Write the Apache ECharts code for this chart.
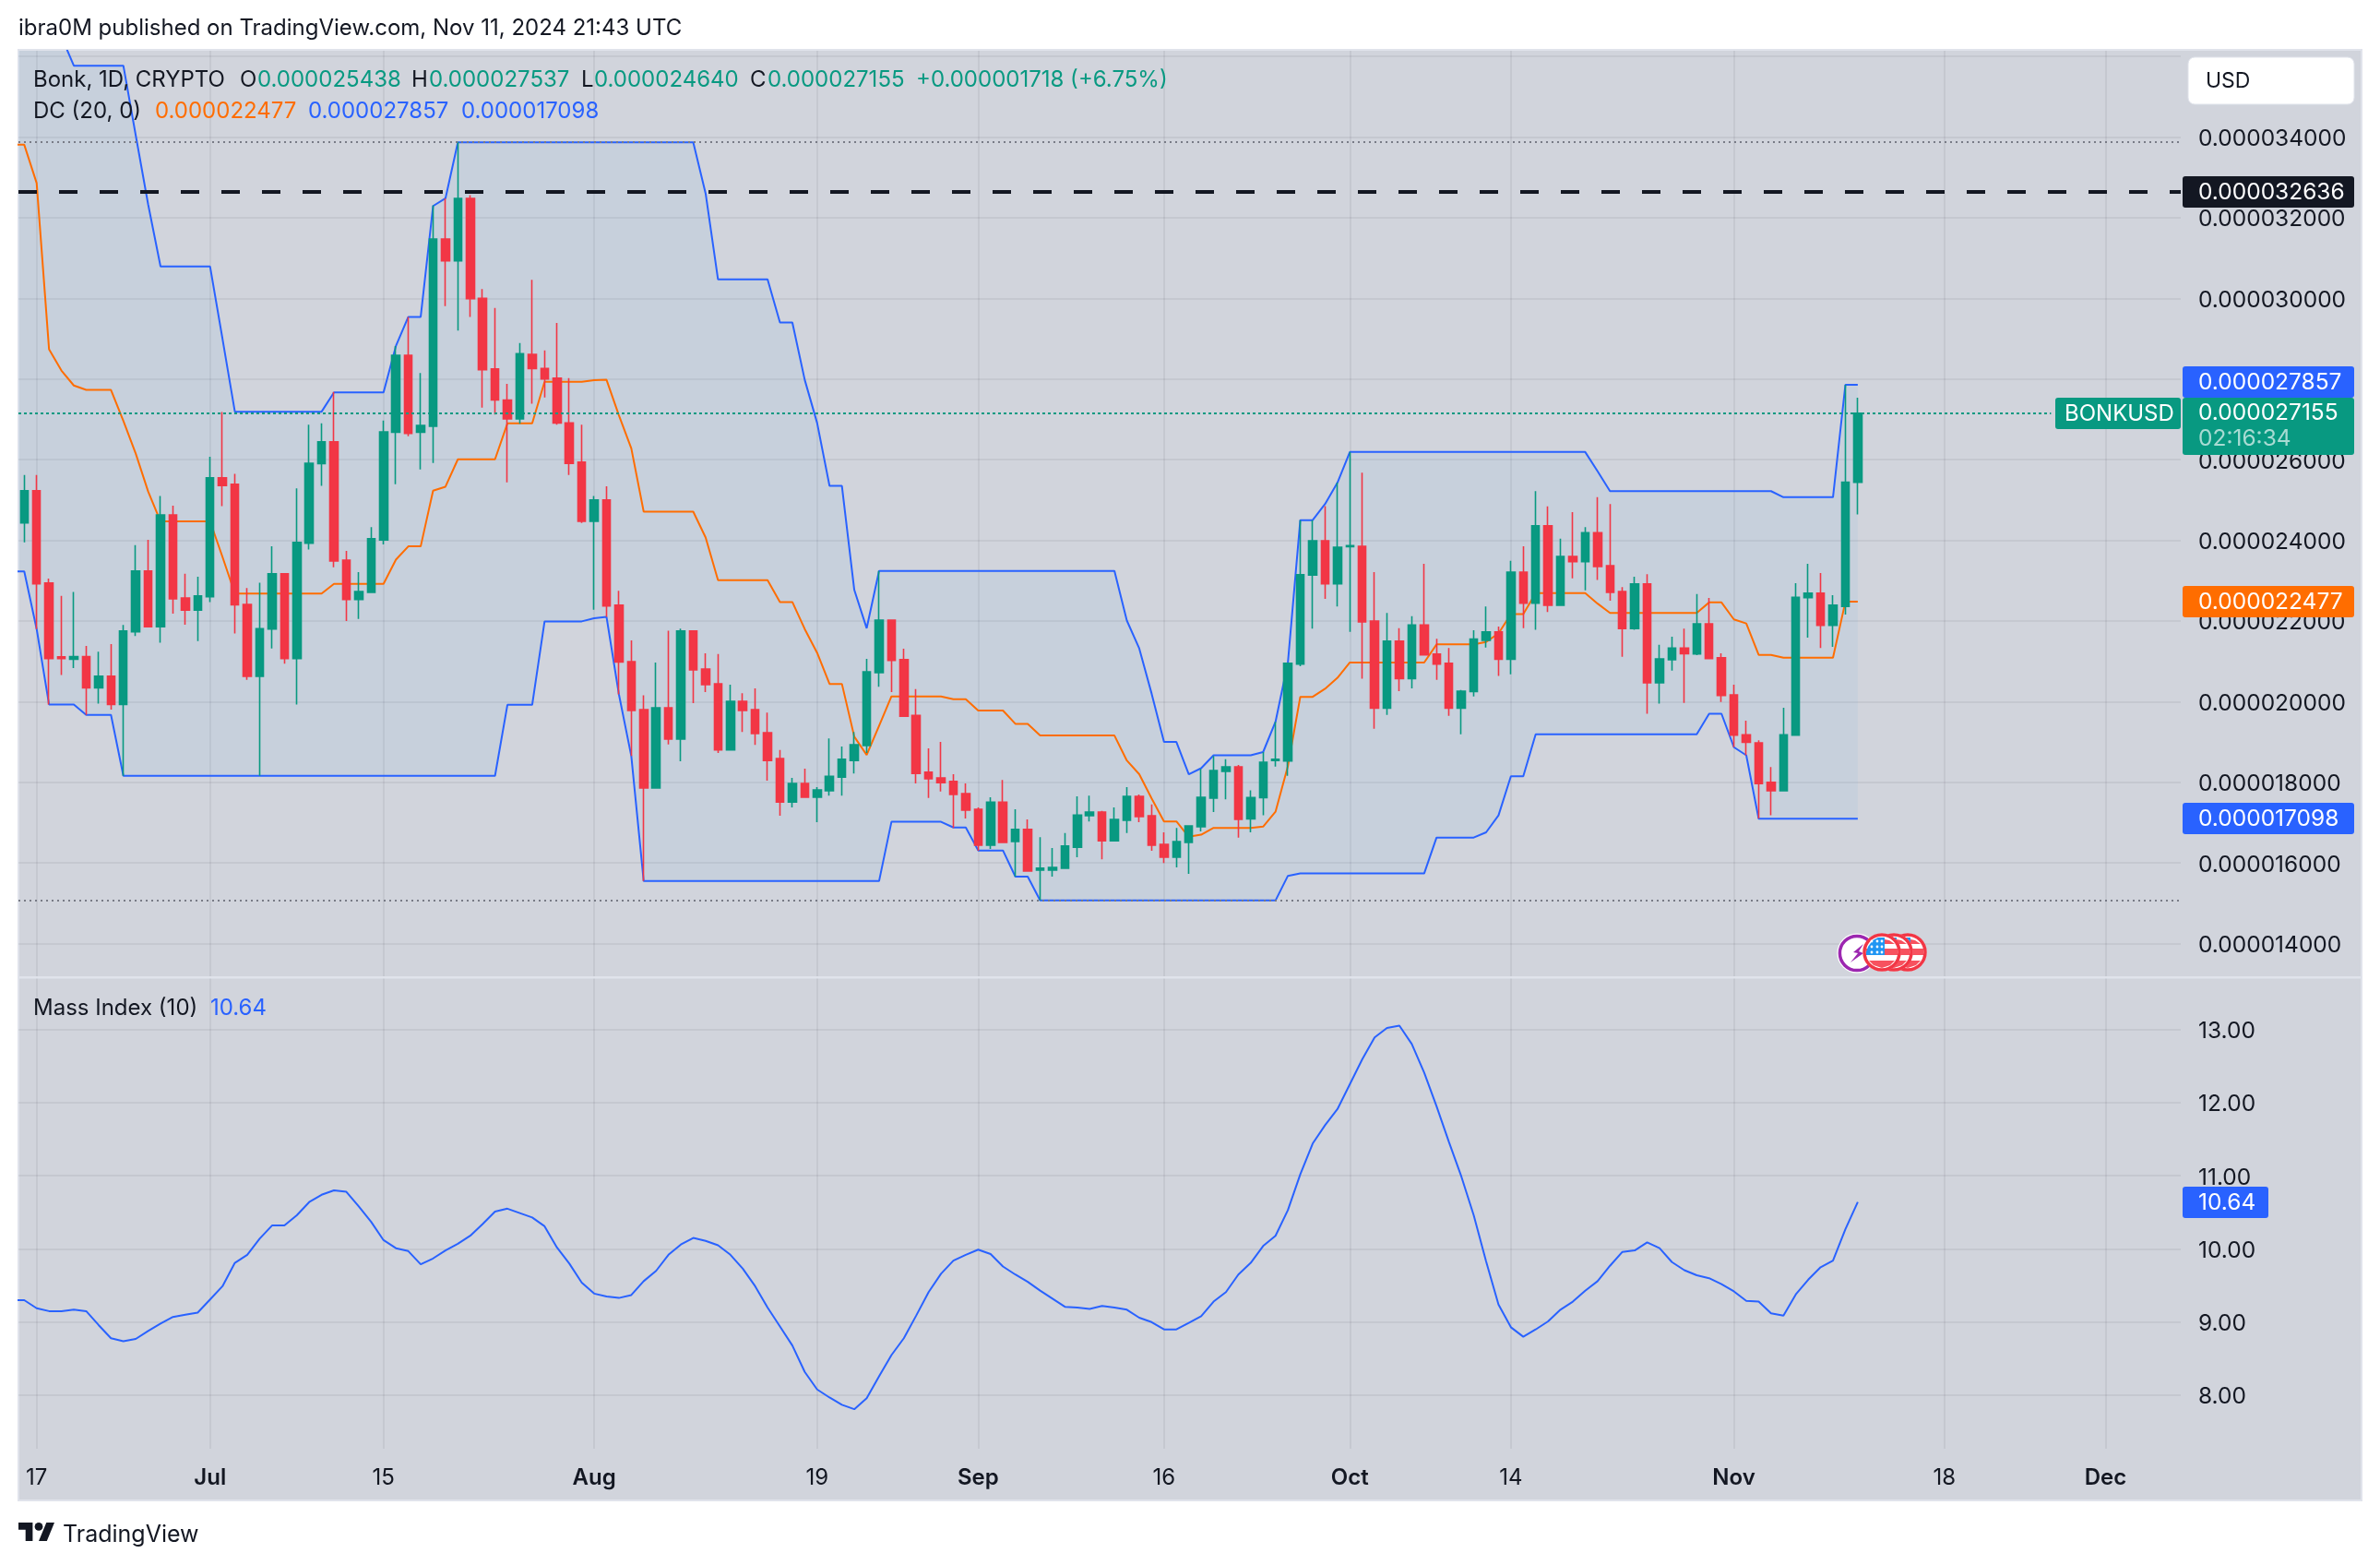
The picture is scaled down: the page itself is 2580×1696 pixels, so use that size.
<!DOCTYPE html>
<html>
<head>
<meta charset="utf-8">
<title>BONKUSD</title>
<script src="https://cdn.jsdelivr.net/npm/echarts@6/dist/echarts.min.js"></script>
<style>
  html, body { margin: 0; padding: 0; background: #fff; }
  #main { width: 2580px; height: 1696px; }
</style>
</head>
<body>
<div id="main"></div>
<script>
// prices are in millionths of a dollar, day 0 is Jun 16 2024
var candleOpen = [
  24.43, 25.23, 22.94, 21.11, 21.05, 21.12, 20.34, 20.63, 19.93, 21.73,
  23.24, 21.86, 24.63, 22.57, 22.27, 22.60, 25.55, 25.39, 22.41, 20.63,
  21.80, 23.17, 21.07, 23.93, 25.90, 26.44, 23.51, 22.53, 22.71, 24.01,
  26.68, 28.59, 26.68, 26.83, 31.47, 30.93, 32.48, 30.00, 28.25, 27.48,
  27.01, 28.61, 28.26, 28.02, 26.91, 25.94, 24.47, 25.00, 22.39, 20.99,
  19.80, 17.86, 19.85, 19.07, 21.75, 20.81, 20.44, 18.80, 20.01, 19.80,
  19.23, 18.59, 17.51, 17.97, 17.63, 17.79, 18.13, 18.54, 18.91, 20.72,
  22.02, 21.04, 19.66, 18.25, 18.11, 18.02, 17.72, 17.33, 16.44, 17.51,
  16.53, 16.83, 15.82, 15.82, 15.87, 16.39, 17.17, 17.26, 16.55, 17.06,
  17.65, 17.17, 16.46, 16.14, 16.51, 16.90, 17.61, 18.27, 18.38, 17.09,
  17.62, 18.54, 18.53, 20.93, 23.14, 23.99, 22.92, 23.84, 23.85, 22.00,
  19.84, 21.50, 20.57, 21.90, 21.18, 20.95, 19.84, 20.25, 21.52, 21.73,
  21.05, 23.21, 22.44, 24.36, 22.39, 23.60, 23.47, 24.19, 23.37, 22.73,
  21.81, 22.92, 20.47, 21.04, 21.33, 21.18, 21.93, 21.09, 20.17, 19.18,
  18.98, 18.00, 17.79, 19.17, 22.58, 22.69, 21.89, 22.36, 25.438
];
var candleClose = [
  25.23, 22.92, 21.07, 21.07, 21.12, 20.34, 20.63, 19.93, 21.75, 23.24,
  21.86, 24.63, 22.55, 22.27, 22.62, 25.55, 25.36, 22.40, 20.63, 21.81,
  23.17, 21.07, 23.95, 25.91, 26.44, 23.49, 22.53, 22.73, 24.04, 26.69,
  28.59, 26.65, 26.85, 31.47, 30.93, 32.48, 29.99, 28.23, 27.48, 27.01,
  28.63, 28.26, 28.00, 26.91, 25.91, 24.47, 25.00, 22.37, 20.98, 19.78,
  17.86, 19.85, 19.07, 21.75, 20.79, 20.42, 18.80, 20.01, 19.78, 19.21,
  18.54, 17.51, 17.97, 17.63, 17.81, 18.15, 18.57, 18.93, 20.74, 22.02,
  21.02, 19.64, 18.22, 18.09, 17.99, 17.70, 17.31, 16.44, 17.51, 16.51,
  16.83, 15.80, 15.87, 15.89, 16.42, 17.19, 17.26, 16.55, 17.08, 17.65,
  17.15, 16.44, 16.14, 16.53, 16.92, 17.63, 18.29, 18.38, 17.08, 17.62,
  18.50, 18.57, 20.95, 23.15, 23.99, 22.92, 23.83, 23.87, 21.98, 19.84,
  21.50, 20.57, 21.90, 21.16, 20.93, 19.84, 20.26, 21.55, 21.73, 21.05,
  23.21, 22.44, 24.36, 22.39, 23.60, 23.47, 24.19, 23.35, 22.71, 21.81,
  22.92, 20.47, 21.06, 21.33, 21.19, 21.93, 21.07, 20.15, 19.17, 18.99,
  17.97, 17.79, 19.18, 22.59, 22.69, 21.89, 22.39, 25.44, 27.155
];
var candleLow = [
  23.95, 21.80, 19.93, 20.66, 20.83, 19.67, 19.95, 19.80, 18.16, 21.63,
  21.86, 21.46, 22.18, 21.91, 21.50, 22.47, 24.85, 21.69, 20.54, 18.16,
  21.32, 20.94, 19.93, 23.77, 25.35, 23.33, 22.00, 22.05, 22.71, 23.90,
  25.39, 26.58, 25.76, 25.92, 29.81, 29.20, 29.54, 27.29, 27.12, 25.44,
  26.89, 27.39, 27.54, 26.87, 25.62, 24.43, 22.28, 22.10, 20.18, 18.65,
  15.55, 17.86, 18.94, 18.52, 19.96, 20.24, 18.73, 18.80, 19.25, 18.93,
  18.04, 17.17, 17.38, 17.63, 17.01, 17.67, 17.67, 18.22, 18.73, 20.37,
  20.24, 19.62, 17.97, 17.61, 17.77, 16.87, 17.10, 16.30, 16.35, 16.51,
  15.66, 15.80, 15.07, 15.66, 15.85, 16.14, 17.03, 16.09, 16.55, 16.74,
  17.01, 16.30, 16.00, 15.89, 15.73, 16.78, 17.26, 17.58, 16.63, 16.76,
  17.18, 18.39, 18.16, 20.88, 21.81, 22.55, 22.36, 21.73, 20.57, 19.33,
  19.67, 20.26, 20.33, 21.14, 20.54, 19.65, 19.19, 20.13, 21.34, 20.64,
  20.68, 21.82, 21.78, 22.22, 22.39, 23.06, 22.76, 23.02, 22.50, 21.11,
  21.78, 19.70, 19.95, 20.77, 19.97, 21.15, 21.05, 19.99, 18.87, 18.67,
  17.10, 17.18, 17.79, 19.17, 21.59, 21.33, 21.36, 22.16, 24.640
];
var candleHigh = [
  25.62, 25.62, 23.05, 22.62, 22.72, 21.38, 21.24, 21.43, 21.90, 23.88,
  24.01, 25.10, 24.86, 23.17, 23.10, 26.07, 27.18, 25.65, 22.82, 22.95,
  23.85, 23.19, 25.29, 26.87, 26.90, 27.68, 23.74, 23.21, 24.33, 26.97,
  28.82, 29.54, 28.15, 32.31, 32.48, 33.88, 32.56, 30.23, 29.76, 27.88,
  28.89, 30.46, 28.71, 29.39, 28.02, 26.87, 25.10, 25.34, 22.75, 21.52,
  20.16, 20.97, 21.76, 21.81, 21.75, 21.20, 21.18, 20.42, 20.21, 20.33,
  19.73, 18.80, 18.11, 18.34, 17.88, 19.09, 18.89, 19.25, 21.06, 23.24,
  22.02, 21.31, 20.31, 18.84, 19.00, 18.20, 17.97, 17.38, 17.63, 18.06,
  17.33, 17.08, 16.64, 16.37, 16.74, 17.65, 17.67, 17.29, 17.38, 17.88,
  17.70, 17.45, 16.76, 16.87, 16.92, 18.33, 18.65, 18.57, 18.43, 17.80,
  18.75, 19.50, 20.97, 24.50, 24.50, 24.85, 25.43, 26.19, 25.68, 23.21,
  22.20, 21.82, 22.12, 23.42, 21.56, 21.33, 20.29, 21.77, 22.36, 21.86,
  23.49, 23.85, 25.22, 24.84, 24.04, 24.70, 24.33, 25.07, 24.90, 22.84,
  23.10, 23.16, 21.41, 21.61, 21.81, 22.67, 22.57, 21.20, 20.42, 19.53,
  19.04, 18.38, 19.85, 22.94, 23.42, 23.19, 22.64, 27.857, 27.537
];

// indicator arrays start one day earlier (Jun 15), the bar just off the left edge
var dcUpper = [
  44.39, 44.39, 43.92, 37.55, 36.49, 35.77, 35.77, 35.77, 35.77, 35.77,
  34.04, 32.33, 30.79, 30.79, 30.79, 30.79, 30.79, 29.00, 27.19, 27.19,
  27.19, 27.19, 27.19, 27.19, 27.19, 27.19, 27.67, 27.67, 27.67, 27.67,
  27.67, 28.82, 29.54, 29.54, 32.29, 32.48, 33.87, 33.87, 33.87, 33.87,
  33.87, 33.87, 33.87, 33.87, 33.87, 33.87, 33.87, 33.87, 33.87, 33.87,
  33.87, 33.87, 33.87, 33.87, 33.87, 33.87, 32.60, 30.47, 30.47, 30.47,
  30.47, 30.47, 29.40, 29.40, 27.98, 26.91, 25.35, 25.35, 22.77, 21.82,
  23.24, 23.24, 23.24, 23.24, 23.24, 23.24, 23.24, 23.24, 23.24, 23.24,
  23.24, 23.24, 23.24, 23.24, 23.24, 23.24, 23.24, 23.24, 23.24, 23.24,
  22.01, 21.32, 20.20, 19.00, 19.00, 18.20, 18.35, 18.67, 18.67, 18.67,
  18.67, 18.75, 19.50, 20.97, 24.50, 24.50, 24.90, 25.43, 26.19, 26.19,
  26.19, 26.19, 26.19, 26.19, 26.19, 26.19, 26.19, 26.19, 26.19, 26.19,
  26.19, 26.19, 26.19, 26.19, 26.19, 26.19, 26.19, 26.19, 25.71, 25.22,
  25.22, 25.22, 25.22, 25.22, 25.22, 25.22, 25.22, 25.22, 25.22, 25.22,
  25.22, 25.22, 25.22, 25.07, 25.07, 25.07, 25.07, 25.07, 27.857, 27.857
];
var dcLower = [
  23.23, 23.23, 21.80, 19.93, 19.93, 19.93, 19.67, 19.67, 19.67, 18.16,
  18.16, 18.16, 18.16, 18.16, 18.16, 18.16, 18.16, 18.16, 18.16, 18.16,
  18.16, 18.16, 18.16, 18.16, 18.16, 18.16, 18.16, 18.16, 18.16, 18.16,
  18.16, 18.16, 18.16, 18.16, 18.16, 18.16, 18.16, 18.16, 18.16, 18.16,
  19.92, 19.92, 19.92, 21.99, 21.99, 21.99, 21.99, 22.07, 22.10, 20.18,
  18.65, 15.55, 15.55, 15.55, 15.55, 15.55, 15.55, 15.55, 15.55, 15.55,
  15.55, 15.55, 15.55, 15.55, 15.55, 15.55, 15.55, 15.55, 15.55, 15.55,
  15.55, 17.02, 17.02, 17.02, 17.02, 17.02, 16.88, 16.88, 16.31, 16.31,
  16.31, 15.66, 15.66, 15.07, 15.07, 15.07, 15.07, 15.07, 15.07, 15.07,
  15.07, 15.07, 15.07, 15.07, 15.07, 15.07, 15.07, 15.07, 15.07, 15.07,
  15.07, 15.07, 15.07, 15.68, 15.74, 15.74, 15.74, 15.74, 15.74, 15.74,
  15.74, 15.74, 15.74, 15.74, 15.74, 16.63, 16.63, 16.63, 16.63, 16.76,
  17.18, 18.15, 18.15, 19.19, 19.19, 19.19, 19.19, 19.19, 19.19, 19.19,
  19.19, 19.19, 19.19, 19.19, 19.19, 19.19, 19.19, 19.70, 19.70, 18.87,
  18.67, 17.098, 17.098, 17.098, 17.098, 17.098, 17.098, 17.098, 17.098, 17.098
];
var dcMiddle = [
  33.81, 33.81, 32.86, 28.74, 28.21, 27.84, 27.73, 27.73, 27.73, 26.96,
  26.15, 25.21, 24.47, 24.47, 24.47, 24.47, 24.47, 23.59, 22.68, 22.68,
  22.68, 22.68, 22.68, 22.68, 22.68, 22.68, 22.92, 22.92, 22.92, 22.92,
  22.92, 23.52, 23.85, 23.85, 25.23, 25.33, 26.01, 26.01, 26.01, 26.01,
  26.90, 26.90, 26.90, 27.93, 27.93, 27.93, 27.93, 27.97, 27.98, 27.10,
  26.28, 24.71, 24.71, 24.71, 24.71, 24.71, 24.07, 23.01, 23.01, 23.01,
  23.01, 23.01, 22.47, 22.47, 21.80, 21.21, 20.44, 20.44, 19.13, 18.68,
  19.40, 20.13, 20.13, 20.13, 20.13, 20.13, 20.06, 20.06, 19.78, 19.78,
  19.78, 19.45, 19.45, 19.16, 19.16, 19.16, 19.16, 19.16, 19.16, 19.16,
  18.54, 18.20, 17.60, 17.03, 17.03, 16.65, 16.70, 16.87, 16.87, 16.87,
  16.87, 16.90, 17.27, 18.40, 20.12, 20.12, 20.32, 20.59, 20.97, 20.97,
  20.97, 20.97, 20.97, 20.97, 20.97, 21.42, 21.42, 21.42, 21.42, 21.48,
  21.69, 22.17, 22.17, 22.69, 22.69, 22.69, 22.69, 22.69, 22.43, 22.20,
  22.20, 22.20, 22.20, 22.20, 22.20, 22.20, 22.20, 22.46, 22.46, 22.04,
  21.94, 21.16, 21.16, 21.09, 21.09, 21.09, 21.09, 21.09, 22.477, 22.477
];
var massIndex = [
  9.30, 9.30, 9.19, 9.15, 9.15, 9.17, 9.15, 8.96, 8.78, 8.74,
  8.77, 8.88, 8.98, 9.07, 9.10, 9.13, 9.31, 9.49, 9.81, 9.92,
  10.14, 10.32, 10.32, 10.46, 10.64, 10.74, 10.80, 10.78, 10.58, 10.37,
  10.12, 10.01, 9.97, 9.79, 9.87, 9.98, 10.07, 10.18, 10.34, 10.51,
  10.55, 10.49, 10.43, 10.31, 10.02, 9.80, 9.54, 9.39, 9.35, 9.33,
  9.37, 9.56, 9.70, 9.92, 10.06, 10.15, 10.11, 10.05, 9.92, 9.73,
  9.49, 9.20, 8.94, 8.68, 8.32, 8.08, 7.97, 7.87, 7.81, 7.96,
  8.26, 8.55, 8.78, 9.09, 9.41, 9.66, 9.84, 9.92, 9.99, 9.93,
  9.76, 9.65, 9.55, 9.43, 9.32, 9.21, 9.20, 9.18, 9.22, 9.20,
  9.17, 9.06, 9.00, 8.90, 8.90, 8.99, 9.08, 9.28, 9.41, 9.65,
  9.81, 10.04, 10.18, 10.53, 11.02, 11.44, 11.69, 11.91, 12.25, 12.59,
  12.89, 13.02, 13.05, 12.80, 12.41, 11.95, 11.46, 10.99, 10.46, 9.83,
  9.24, 8.93, 8.80, 8.90, 9.01, 9.17, 9.28, 9.43, 9.56, 9.77,
  9.96, 9.98, 10.09, 10.01, 9.82, 9.71, 9.64, 9.60, 9.52, 9.42,
  9.29, 9.28, 9.12, 9.09, 9.38, 9.58, 9.75, 9.84, 10.27, 10.64
];

var dateTickDays = [1, 15, 29, 46, 64, 77, 92, 107, 120, 138, 155, 168];
var dateTickLabels = ["17", "Jul", "15", "Aug", "19", "Sep", "16", "Oct", "14", "Nov", "18", "Dec"];
var priceGridTicks = [14, 16, 18, 20, 22, 24, 26, 28, 30, 32, 34, 36];
var priceLabelTicks = [14, 16, 18, 20, 22, 24, 26, 28, 30, 32, 34];
var massTicks = [8, 9, 10, 11, 12, 13];

var lastClose = 27.155;
var alertLevel = 32.636;
var rangeTop = 33.87;
var rangeBottom = 15.07;

var UP = "#089981", DOWN = "#f23645", BLUE = "#2962ff", ORANGE = "#ff6d00";
var INK = "#131722", PANEL = "#d1d4dc", EDGE = "#e0e3eb", GRID = "rgba(42,46,57,0.07)";
var FONT = "Inter, sans-serif";
var AXIS_SIZE = 24.5;

var xMin = -0.469, xMax = 174.07;

var candles = candleOpen.map(function (o, i) {
  return [i, o, candleClose[i], candleLow[i], candleHigh[i]];
});
function withDay(values) {
  return values.map(function (v, i) { return [i - 1, v]; });
}

function labelFor(day) {
  var i = dateTickDays.indexOf(day);
  var text = i < 0 ? "" : dateTickLabels[i];
  return /^\d/.test(text) ? text : "{b|" + text + "}";
}

function line(name, values, color, axis, z) {
  return {
    name: name, type: "line", data: withDay(values), xAxisIndex: axis, yAxisIndex: axis,
    showSymbol: false, symbol: "none", silent: true, z: z || 2,
    lineStyle: { color: color, width: 2 }
  };
}

// channel fill, one polygon from the upper edge back along the lower edge
function renderChannel(params, api) {
  if (params.dataIndex !== 0) return;
  var points = [];
  dcUpper.forEach(function (v, i) { points.push(api.coord([i - 1, v])); });
  for (var i = dcLower.length - 1; i >= 0; i--) points.push(api.coord([i - 1, dcLower[i]]));
  return { type: "polygon", shape: { points: points }, style: { fill: "rgba(33,150,243,0.055)" } };
}

function text(str, x, y, fill, size) {
  return {
    type: "text", x: x, y: y, z: 30, silent: true,
    style: {
      text: str, fill: fill, font: "400 " + size + "px " + FONT,
      verticalAlign: "middle", align: "left"
    }
  };
}
function tag(x, y, w, h, fill, r) {
  return { type: "rect", z: 25, silent: true, shape: { x: x, y: y, width: w, height: h, r: r || 0 }, style: { fill: fill } };
}
function polygon(points, fill, z) {
  return { type: "polygon", z: z, silent: true, shape: { points: points }, style: { fill: fill } };
}
function circle(cx, cy, r, fill, stroke, width, z) {
  return { type: "circle", z: z, silent: true, shape: { cx: cx, cy: cy, r: r }, style: { fill: fill, stroke: stroke, lineWidth: width || 0 } };
}

// US flag event badge
function flagBadge(cx, cy, z) {
  var out = [
    circle(cx, cy, 20.5, "#fff", null, 0, z),
    polygon([[cx + 3, cy - 14], [cx + 8, cy - 13], [cx + 14, cy - 9], [cx + 3, cy - 9]], "#f7525f", z),
    { type: "rect", z: z, silent: true, shape: { x: cx - 17, y: cy - 4, width: 34, height: 7 }, style: { fill: "#f7525f" } },
    polygon([[cx - 14, cy + 9], [cx + 14, cy + 9], [cx + 9, cy + 14], [cx, cy + 17], [cx - 9, cy + 14]], "#f7525f", z),
    polygon([[cx - 15, cy - 6], [cx - 10, cy - 13], [cx - 4, cy - 16], [cx + 3, cy - 16], [cx + 3, cy + 3], [cx - 17, cy + 3], [cx - 17, cy]], "#2196f3", z),
    circle(cx, cy, 19, "none", "#f23645", 3.5, z)
  ];
  [-12, -6, 0].forEach(function (dy) {
    [-11, -5, 0].forEach(function (dx) {
      out.push(circle(cx + dx, cy + dy, 1.4, "#fff", null, 0, z));
    });
  });
  return out;
}

// panel and furniture around the panes
var backdrop = [
  { type: "rect", z: -10, silent: true, shape: { x: 20, y: 54, width: 2540, height: 1572 }, style: { fill: PANEL, stroke: EDGE, lineWidth: 2 } },
  { type: "rect", z: 1, silent: true, shape: { x: 20, y: 1058, width: 2540, height: 2.5 }, style: { fill: EDGE } }
];

var legend = [
  text("ibra0M published on TradingView.com, Nov 11, 2024 21:43 UTC", 20, 31, INK, 24),
  text("Bonk, 1D, CRYPTO", 36, 87, INK, 24),
  text("O", 260, 87, INK, 24), text("0.000025438", 279, 87, UP, 24),
  text("H", 446, 87, INK, 24), text("0.000027537", 465, 87, UP, 24),
  text("L", 630, 87, INK, 24), text("0.000024640", 644, 87, UP, 24),
  text("C", 813, 87, INK, 24), text("0.000027155", 832, 87, UP, 24),
  text("+0.000001718 (+6.75%)", 993, 87, UP, 24),
  text("DC (20, 0)", 36, 121, INK, 24),
  text("0.000022477", 168, 121, ORANGE, 24),
  text("0.000027857", 334, 121, BLUE, 24),
  text("0.000017098", 500, 121, BLUE, 24),
  text("Mass Index (10)", 36, 1093, INK, 24),
  text("10.64", 228, 1093, BLUE, 24),
  text("TradingView", 68, 1663, INK, 25)
];

var priceTags = [
  { type: "rect", z: 25, silent: true, shape: { x: 2372, y: 62, width: 180, height: 51, r: 7 }, style: { fill: "#fff", stroke: EDGE, lineWidth: 1 } },
  text("USD", 2391, 88, INK, 23),
  tag(2366, 191, 186, 34, INK, 3), text("0.000032636", 2383, 209, "#fff", AXIS_SIZE),
  tag(2366, 397, 186, 34, BLUE, 3), text("0.000027857", 2383, 415, "#fff", AXIS_SIZE),
  tag(2366, 431, 186, 62, UP, 3), text("0.000027155", 2383, 448, "#fff", AXIS_SIZE),
  text("02:16:34", 2383, 476, "rgba(255,255,255,0.65)", AXIS_SIZE),
  tag(2228, 431, 136, 34, UP, 3), text("BONKUSD", 2238, 449, "#fff", 24),
  tag(2366, 635, 186, 34, ORANGE, 3), text("0.000022477", 2383, 653, "#fff", AXIS_SIZE),
  tag(2366, 870, 186, 34, BLUE, 3), text("0.000017098", 2383, 888, "#fff", AXIS_SIZE),
  tag(2366, 1286, 93, 34, BLUE, 3), text("10.64", 2383, 1304, "#fff", AXIS_SIZE)
];

var logo = [
  polygon([[20, 1650], [35.4, 1650], [35.4, 1670], [27.7, 1670], [27.7, 1657.7], [20, 1657.7]], INK, 30),
  polygon([[42, 1670], [50.3, 1650], [59, 1650], [50.8, 1670]], INK, 30),
  circle(42, 1654.4, 4.4, INK, null, 0, 30)
];

var badges = [].concat(
  flagBadge(2068, 1032, 21),
  flagBadge(2053, 1032, 22),
  [
    circle(2013, 1033, 21.6, "#fff", null, 0, 23),
    circle(2013, 1033, 18.6, "#fff", "#9c27b0", 3.5, 23),
    polygon([[2020, 1023], [2009, 1032], [2014, 1033], [2006, 1043], [2020, 1033], [2015, 1031]], "#9c27b0", 23)
  ],
  flagBadge(2040, 1032, 24)
);

// rich token so the right axis text can sit a touch below its grid line
var axisRich = { t: { fontSize: AXIS_SIZE, color: INK, fontFamily: FONT, padding: [4, 0, 0, 0] } };

var option = {
  animation: false,
  backgroundColor: "#ffffff",
  textStyle: { fontFamily: FONT },
  grid: [
    { left: 20, top: 55, width: 2344, height: 1004 },
    { left: 20, top: 1060, width: 2344, height: 510 }
  ],
  xAxis: [
    {
      type: "value", gridIndex: 0, min: xMin, max: xMax, scale: true,
      axisLine: { show: false },
      axisTick: { show: false, customValues: dateTickDays },
      axisLabel: { show: false, customValues: dateTickDays },
      splitLine: { show: true, lineStyle: { color: GRID, width: 2 } }
    },
    {
      type: "value", gridIndex: 1, min: xMin, max: xMax, scale: true,
      axisLine: { show: false },
      axisTick: { show: false, customValues: dateTickDays },
      axisLabel: {
        customValues: dateTickDays, margin: 20, color: INK, fontSize: 24, fontFamily: FONT,
        formatter: labelFor,
        rich: { b: { fontWeight: 600, fontSize: 24, color: INK, fontFamily: FONT } }
      },
      splitLine: { show: true, lineStyle: { color: GRID, width: 2 } }
    }
  ],
  yAxis: [
    {
      type: "value", gridIndex: 0, position: "right", min: 13.167, max: 36.14, scale: true,
      axisLine: { show: false },
      axisTick: { show: false, customValues: priceGridTicks },
      axisLabel: {
        customValues: priceLabelTicks, margin: 19, color: INK, fontSize: AXIS_SIZE, fontFamily: FONT, align: "left",
        rich: axisRich,
        formatter: function (v) { return "{t|" + (v / 1e6).toFixed(9) + "}"; }
      },
      splitLine: { show: true, lineStyle: { color: GRID, width: 2 } }
    },
    {
      type: "value", gridIndex: 1, position: "right", min: 7.27, max: 13.70, scale: true,
      axisLine: { show: false },
      axisTick: { show: false, customValues: massTicks },
      axisLabel: {
        customValues: massTicks, margin: 19, color: INK, fontSize: AXIS_SIZE, fontFamily: FONT, align: "left",
        rich: axisRich,
        formatter: function (v) { return "{t|" + v.toFixed(2) + "}"; }
      },
      splitLine: { show: true, lineStyle: { color: GRID, width: 2 } }
    }
  ],
  series: [
    {
      name: "DC fill", type: "custom", data: withDay(dcUpper), xAxisIndex: 0, yAxisIndex: 0,
      renderItem: renderChannel, clip: true, silent: true, z: 1
    },
    line("DC upper", dcUpper, BLUE, 0),
    line("DC lower", dcLower, BLUE, 0),
    line("DC basis", dcMiddle, ORANGE, 0),
    {
      name: "Bonk", type: "candlestick", data: candles, xAxisIndex: 0, yAxisIndex: 0, z: 3,
      barWidth: 9, silent: true,
      itemStyle: { color: UP, color0: DOWN, borderColor: UP, borderColor0: DOWN, borderWidth: 1.6 },
      markLine: {
        silent: true, symbol: ["none", "none"], label: { show: false },
        data: [
          { yAxis: alertLevel, lineStyle: { color: INK, width: 4, type: [20, 24] } },
          { yAxis: rangeTop, lineStyle: { color: "#787b86", width: 2, type: [2, 4] } },
          { yAxis: rangeBottom, lineStyle: { color: "#787b86", width: 2, type: [2, 4] } },
          [
            { coord: [xMin, lastClose], lineStyle: { color: UP, width: 2, type: [3, 3] } },
            { coord: [163.6, lastClose] }
          ]
        ]
      }
    },
    line("Mass Index", massIndex, BLUE, 1)
  ],
  graphic: { elements: [].concat(backdrop, legend, priceTags, badges, logo) }
};

var chart = echarts.init(document.getElementById("main"));
chart.setOption(option);
</script>
</body>
</html>
